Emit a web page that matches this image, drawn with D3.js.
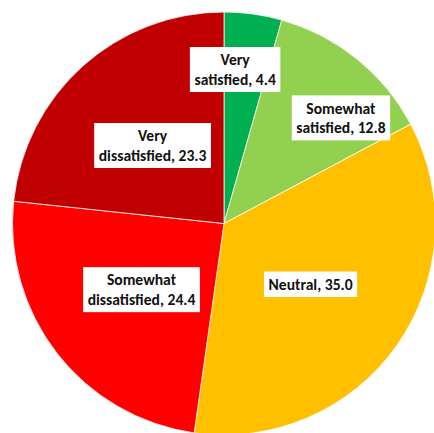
<!DOCTYPE html>
<html>
<head>
<meta charset="utf-8">
<script src="https://cdn.jsdelivr.net/npm/d3@7"></script>
<style>
  html, body { margin: 0; padding: 0; background: #fff; }
  svg { display: block; }
</style>
</head>
<body>
<svg id="chart" width="434" height="433"></svg>
<script>
// ---- data ----
const categories = ["Very satisfied", "Somewhat satisfied", "Neutral", "Somewhat dissatisfied", "Very dissatisfied"];
const values = [4.4, 12.8, 35.0, 24.4, 23.3];
const labelLines = [
  ["Very", "satisfied, 4.4"],
  ["Somewhat", "satisfied, 12.8"],
  ["Neutral, 35.0"],
  ["Somewhat", "dissatisfied, 24.4"],
  ["Very", "dissatisfied, 23.3"]
];
const colors = ["#00B050", "#92D050", "#FFC000", "#FF0000", "#C00000"];

// ---- layout ----
const W = 434, H = 433;
const cx = 224, cy = 223.5, R = 211.5;
// label placement (fraction of radius, angle shift in degrees) - mimics "best fit"
const labelPlace = [
  { r: 0.73, dAngle: -3.8 },
  { r: 0.745, dAngle: 9.0 },
  { r: 0.50, dAngle: 0 },
  { r: 0.50, dAngle: -0.8 },
  { r: 0.50, dAngle: -0.5 }
];
const fontSize = 15.6, lineH = 19.5, padX = 4.5, padY = 3;

const svg = d3.select("#chart");
const g = svg.append("g").attr("transform", `translate(${cx},${cy})`);

const pie = d3.pie().sort(null).value(d => d)(values);
const arc = d3.arc().innerRadius(0).outerRadius(R);

g.selectAll("path.slice")
  .data(pie)
  .join("path")
  .attr("class", "slice")
  .attr("d", arc)
  .attr("fill", (d, i) => colors[i])
  .attr("stroke", "#fff")
  .attr("stroke-width", 0.75);

const labels = g.selectAll("g.label")
  .data(pie)
  .join("g")
  .attr("class", "label")
  .attr("transform", (d, i) => {
    const p = labelPlace[i];
    const a = (d.startAngle + d.endAngle) / 2 + p.dAngle * Math.PI / 180;
    const r = R * p.r;
    return `translate(${r * Math.sin(a)},${-r * Math.cos(a)})`;
  });

labels.each(function(d, i) {
  const sel = d3.select(this);
  const lines = labelLines[i];
  const rect = sel.append("rect").attr("fill", "#fff");
  const text = sel.append("text")
    .attr("text-anchor", "middle")
    .attr("font-family", "Carlito, Calibri, Lato, 'Open Sans', sans-serif")
    .attr("font-weight", "bold")
    .attr("font-size", fontSize)
    .attr("fill", "#111");
  const n = lines.length;
  lines.forEach((t, k) => {
    text.append("tspan")
      .attr("x", 0)
      .attr("y", (k - (n - 1) / 2) * lineH)
      .attr("dy", "0.35em")
      .text(t);
  });
  const bb = text.node().getBBox();
  const w = bb.width + 2 * padX;
  const h = n * lineH + 2 * padY;
  rect.attr("x", -w / 2).attr("y", -h / 2).attr("width", w).attr("height", h);
});
</script>
</body>
</html>
